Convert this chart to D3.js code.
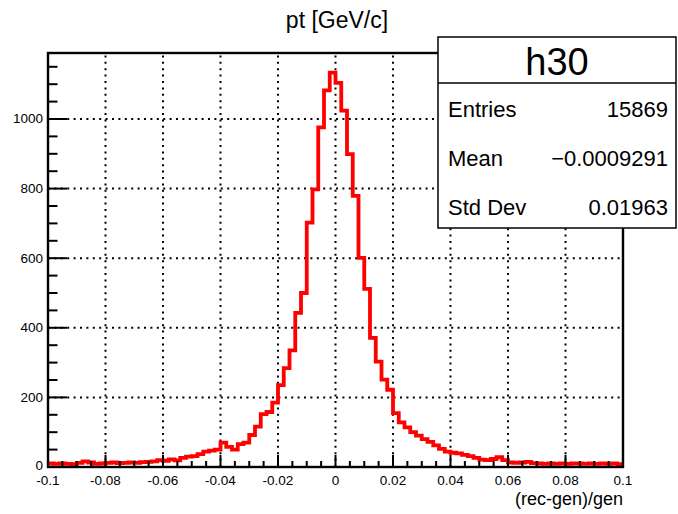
<!DOCTYPE html>
<html>
<head>
<meta charset="utf-8">
<script src="https://cdn.jsdelivr.net/npm/d3@7"></script>
<style>
  body { margin: 0; background: #fff; }
  svg { display: block; font-family: "Liberation Sans", Arial, sans-serif; }
</style>
</head>
<body>
<svg id="chart"></svg>
<script>
// histogram definition (100 bins from -0.1 to 0.1)
var xMin = -0.1, xMax = 0.1, nBins = 100;
var counts = [
  10, 9, 10, 9, 8, 12, 16, 13, 9, 10,
  12, 13, 11, 12, 13, 12, 14, 15, 16, 20,
  18, 22, 19, 26, 30, 31, 37, 44, 47, 50,
  70, 58, 50, 66, 70, 92, 116, 152, 158, 185,
  235, 284, 335, 443, 500, 702, 798, 976, 1082, 1133,
  1104, 1024, 899, 779, 601, 512, 371, 303, 251, 222,
  155, 128, 114, 100, 90, 80, 72, 62, 52, 44,
  41, 39, 35, 31, 26, 21, 20, 23, 28, 20,
  13, 12, 13, 15, 11, 10, 9, 10, 9, 10,
  9, 10, 10, 9, 10, 9, 10, 9, 10, 8
];
var xTicks = [-0.1, -0.08, -0.06, -0.04, -0.02, 0, 0.02, 0.04, 0.06, 0.08, 0.1];
var xTickLabels = ["-0.1", "-0.08", "-0.06", "-0.04", "-0.02", "0", "0.02", "0.04", "0.06", "0.08", "0.1"];
var yTicks = [0, 200, 400, 600, 800, 1000];
var yTickLabels = ["0", "200", "400", "600", "800", "1000"];
var statNames = ["Entries", "Mean", "Std Dev"];
var statValues = ["15869", "\u22120.0009291", "0.01963"];
var histName = "h30";
var title = "pt [GeV/c]";
var xTitle = "(rec-gen)/gen";

var config = {
    width: 678,
    height: 514,
    left: 48,
    right: 623,
    top: 53,
    bottom: 467
};

var svg = d3.select("#chart")
    .attr("width", config.width)
    .attr("height", config.height);

svg.append("rect")
    .attr("width", config.width)
    .attr("height", config.height)
    .style("fill", "#fff");

var binWidth = (xMax - xMin) / nBins;
var yMax = 1.05 * d3.max(counts);

var x = d3.scaleLinear().domain([xMin, xMax]).range([config.left, config.right]);
var y = d3.scaleLinear().domain([0, yMax]).range([config.bottom, config.top]);

// dotted grid
var grid = svg.append("g")
    .style("stroke", "#000")
    .style("stroke-width", 2)
    .style("stroke-dasharray", "2 4.4");

grid.selectAll("line.vx")
    .data(xTicks.slice(1, -1))
    .enter()
    .append("line")
    .attr("x1", function(d) { return x(d); })
    .attr("x2", function(d) { return x(d); })
    .attr("y1", config.bottom)
    .attr("y2", config.top);

grid.selectAll("line.hy")
    .data(yTicks.slice(1))
    .enter()
    .append("line")
    .attr("x1", config.left)
    .attr("x2", config.right)
    .attr("y1", function(d) { return y(d); })
    .attr("y2", function(d) { return y(d); });

// histogram outline as steps
var steps = counts.map(function(c, i) { return [xMin + i * binWidth, c]; });
steps.push([xMax, counts[counts.length - 1]]);

var line = d3.line()
    .x(function(d) { return x(d[0]); })
    .y(function(d) { return y(d[1]); })
    .curve(d3.curveStepAfter);

svg.append("path")
    .datum(steps)
    .attr("d", line)
    .style("fill", "none")
    .style("stroke", "#ff0000")
    .style("stroke-width", 3.8);

// ticks: major + minor, drawn inward
var ticks = svg.append("g").style("stroke", "#000").style("stroke-width", 2);

var xMinor = d3.range(0, 41).map(function(i) { return xMin + i * 0.005; });
ticks.selectAll("line.xt")
    .data(xMinor)
    .enter()
    .append("line")
    .attr("x1", function(d) { return x(d); })
    .attr("x2", function(d) { return x(d); })
    .attr("y1", config.bottom)
    .attr("y2", function(d, i) { return config.bottom - (i % 4 === 0 ? 12 : 6); });

var yMinor = d3.range(0, 24).map(function(i) { return i * 50; });
ticks.selectAll("line.yt")
    .data(yMinor)
    .enter()
    .append("line")
    .attr("y1", function(d) { return y(d); })
    .attr("y2", function(d) { return y(d); })
    .attr("x1", config.left)
    .attr("x2", function(d, i) { return config.left + (i % 4 === 0 ? 19 : 9.5); });

// frame
svg.append("rect")
    .attr("x", config.left)
    .attr("y", config.top)
    .attr("width", config.right - config.left)
    .attr("height", config.bottom - config.top)
    .style("fill", "none")
    .style("stroke", "#000")
    .style("stroke-width", 2.4);

// tick labels
svg.selectAll("text.xl")
    .data(xTicks)
    .enter()
    .append("text")
    .attr("x", function(d) { return x(d); })
    .attr("y", 485)
    .attr("text-anchor", "middle")
    .style("font-size", "13.5px")
    .style("fill", "#000")
    .text(function(d, i) { return xTickLabels[i]; });

svg.selectAll("text.yl")
    .data(yTicks)
    .enter()
    .append("text")
    .attr("x", 43)
    .attr("y", function(d, i) { return y(d) + (i === 0 ? 3 : 4.5); })
    .attr("text-anchor", "end")
    .style("font-size", "13.5px")
    .style("fill", "#000")
    .text(function(d, i) { return yTickLabels[i]; });

// titles
svg.append("text")
    .attr("x", 337)
    .attr("y", 28)
    .attr("text-anchor", "middle")
    .style("font-size", "23px")
    .text(title);

svg.append("text")
    .attr("x", config.right)
    .attr("y", 505)
    .attr("text-anchor", "end")
    .style("font-size", "18px")
    .text(xTitle);

// stats box
var stats = svg.append("g");
stats.append("rect")
    .attr("x", 438)
    .attr("y", 37)
    .attr("width", 238)
    .attr("height", 191)
    .style("fill", "#fff")
    .style("stroke", "#000")
    .style("stroke-width", 1.5);

stats.append("line")
    .attr("x1", 438).attr("x2", 676)
    .attr("y1", 83).attr("y2", 83)
    .style("stroke", "#000")
    .style("stroke-width", 1.5);

stats.append("text")
    .attr("x", 557)
    .attr("y", 75)
    .attr("text-anchor", "middle")
    .style("font-size", "38px")
    .text(histName);

stats.selectAll("text.sn")
    .data(statNames)
    .enter()
    .append("text")
    .attr("x", 448)
    .attr("y", function(d, i) { return 117 + i * 49; })
    .style("font-size", "22px")
    .text(function(d) { return d; });

stats.selectAll("text.sv")
    .data(statValues)
    .enter()
    .append("text")
    .attr("x", 668)
    .attr("y", function(d, i) { return 117 + i * 49; })
    .attr("text-anchor", "end")
    .style("font-size", "22px")
    .text(function(d) { return d; });
</script>
</body>
</html>
